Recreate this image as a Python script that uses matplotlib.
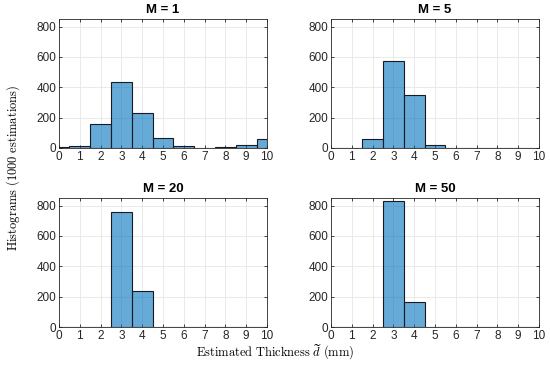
import matplotlib
matplotlib.use("Agg")
import matplotlib.pyplot as plt
import numpy as np

plt.rcParams['font.family'] = ['Liberation Sans', 'DejaVu Sans']
plt.rcParams['mathtext.fontset'] = 'cm'

bin_edges = [0, 0.5, 1.5, 2.5, 3.5, 4.5, 5.5, 6.5, 7.5, 8.5, 9.5, 10]
titles = ["M = 1", "M = 5", "M = 20", "M = 50"]
counts_m1 = [5, 15, 160, 435, 230, 65, 12, 2, 5, 20, 60]
counts_m5 = [0, 0, 62, 570, 350, 17, 0, 0, 0, 0, 0]
counts_m20 = [0, 0, 3, 757, 240, 0, 0, 0, 0, 0, 0]
counts_m50 = [0, 0, 0, 833, 167, 0, 0, 0, 0, 0, 0]
all_counts = [counts_m1, counts_m5, counts_m20, counts_m50]
xticks = list(range(0, 11))
yticks = [0, 200, 400, 600, 800]

fig = plt.figure(figsize=(5.5, 3.66), dpi=100)
W, H = 550, 366
boxes = [(59, 19, 267, 148), (331, 19, 539, 148),
         (59, 198, 267, 327), (331, 198, 539, 327)]

face = (0.0, 0.447, 0.741, 0.6)
edges = np.array(bin_edges)
widths = np.diff(edges)
for (x0, y0, x1, y1), counts, title in zip(boxes, all_counts, titles):
    ax = fig.add_axes([x0 / W, 1 - y1 / H, (x1 - x0) / W, (y1 - y0) / H])
    ax.bar(edges[:-1], counts, width=widths, align='edge',
           color=face, edgecolor=(0.1, 0.1, 0.15), linewidth=0.8, zorder=3)
    ax.set_xlim(0, 10)
    ax.set_ylim(0, 850)
    ax.set_xticks(xticks)
    ax.set_yticks(yticks)
    ax.grid(True, color=(0.9, 0.9, 0.9), linewidth=0.6, zorder=0)
    ax.set_axisbelow(True)
    ax.tick_params(direction='in', length=2.5, width=0.6, labelsize=8.5,
                   colors=(0.15, 0.15, 0.15), top=True, right=True, pad=2)
    ax.tick_params(labeltop=False, labelright=False)
    for s in ax.spines.values():
        s.set_linewidth(0.6)
        s.set_color((0.15, 0.15, 0.15))
    ax.set_title(title, fontsize=9.5, fontweight='bold', pad=4)

fig.text(0.5, 1 - 352 / H, r'$\mathrm{Estimated\ Thickness}\ \widetilde{d}\ \mathrm{(mm)}$',
         ha='center', va='center', fontsize=9)
fig.text(13 / W, 1 - 168 / H, r'$\mathrm{Histograms\ (1000\ estimations)}$',
         ha='center', va='center', rotation=90, fontsize=9)

fig.savefig("out.png", dpi=100)
